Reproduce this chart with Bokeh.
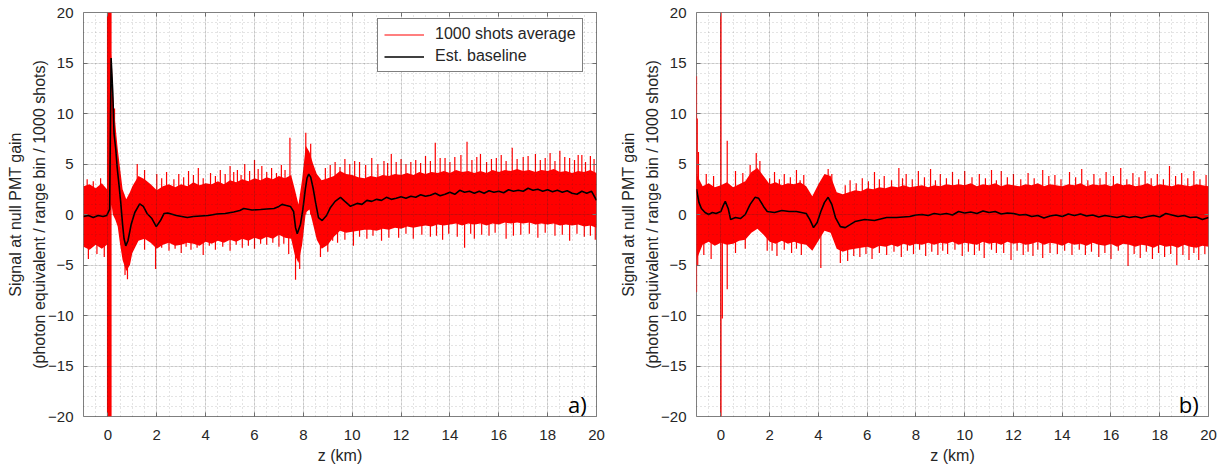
from bokeh.plotting import figure
from bokeh.layouts import row
from bokeh.models import Range1d, SingleIntervalTicker, LinearAxis, Legend, LegendItem, Label
from bokeh.embed import file_html
from bokeh.resources import INLINE

# ---------------- Panel a data ----------------
za_knot = [-1.0, -0.75, -0.5, -0.25, -0.04, 0.15, 0.2, 0.3, 0.4, 0.5, 0.6, 0.75, 0.9, 1.0,
           1.25, 1.5, 1.75, 2.0, 2.25, 2.5, 2.75, 3.0, 3.25, 3.5, 3.75, 4.0, 4.25, 4.5, 4.75,
           5.0, 5.25, 5.5, 5.75, 6.0, 6.25, 6.5, 6.75, 7.0, 7.25, 7.5,
           7.65, 7.8, 7.95, 8.1, 8.25, 8.4, 8.55,
           8.75, 9.0, 9.25, 9.5, 9.75, 10.0, 10.25, 10.5, 10.75, 11.0, 11.25, 11.5, 11.75,
           12.0, 12.25, 12.5, 12.75, 13.0, 13.25, 13.5, 13.75, 14.0, 14.25, 14.5, 14.75,
           15.0, 15.25, 15.5, 15.75, 16.0, 16.25, 16.5, 16.75, 17.0, 17.25, 17.5, 17.75,
           18.0, 18.25, 18.5, 18.75, 19.0, 19.25, 19.5, 19.75, 20.0]
a_hi = [2.8, 3.0, 2.6, 3.1, 2.5, 16.0, 12.0, 9.0, 6.5, 4.5, 2.5, 1.5, 2.2, 2.8,
        3.8, 3.5, 3.0, 2.4, 2.8, 3.0, 2.7, 3.0, 2.8, 3.2, 2.9, 3.1, 3.0, 3.3, 3.0,
        3.4, 3.2, 3.5, 3.3, 3.6, 3.4, 3.7, 3.5, 3.8, 3.6, 3.9,
        2.5, 1.0, 3.5, 6.8, 6.2, 5.0, 4.0,
        3.4, 3.6, 3.8, 4.3, 4.0, 3.9,
        3.7, 3.6, 3.8, 3.7, 3.9, 3.8, 4.0, 3.9, 4.1, 3.9, 4.2, 4.0, 4.2, 4.1, 4.3, 4.1,
        4.4, 4.2, 4.3, 4.1, 4.3, 4.1, 4.4, 4.2, 4.4, 4.3, 4.5, 4.3, 4.4, 4.2, 4.4, 4.3,
        4.5, 4.2, 4.3, 4.1, 4.3, 4.2, 4.4, 4.1]
a_lo = [-3.2, -3.5, -3.0, -3.4, -3.0, 1.0, 0.0, -0.5, -1.2, -3.0, -4.5, -5.6, -5.0, -3.8,
        -2.6, -2.4, -2.8, -3.4, -3.0, -2.8, -3.1, -3.0, -2.8, -2.9, -3.1, -2.7, -2.9, -2.6, -2.8,
        -2.5, -2.7, -2.4, -2.6, -2.3, -2.5, -2.2, -2.4, -2.0, -2.3, -2.4,
        -4.0, -4.8, -3.0, 0.2, 0.5, -1.0, -2.5,
        -3.4, -3.0, -2.2, -1.6, -1.8, -1.7,
        -1.6, -1.5, -1.5, -1.6, -1.4, -1.5, -1.3, -1.4, -1.2, -1.3, -1.2, -1.1, -1.2, -1.0, -1.1, -1.0,
        -0.9, -1.1, -0.9, -1.0, -0.9, -1.1, -0.9, -1.0, -0.8, -0.9, -0.8, -0.9, -0.8, -1.0, -0.9, -1.0,
        -0.9, -1.1, -1.0, -1.1, -1.0, -1.2, -1.1, -1.3]
a_sat = [-0.04, 0.15]

a_up_z = [-0.85, -0.6, -0.3, 0.27, 1.2, 1.5, 2.0, 2.4, 2.9, 3.3, 3.7, 4.2, 4.6, 5.0, 5.3, 5.6,
          6.0, 6.3, 6.7, 7.1, 7.45, 8.1, 8.3, 8.9, 9.3, 9.7, 10.3, 10.8, 11.3, 11.6, 12.0, 12.4,
          13.0, 13.4, 13.8, 14.2, 14.7, 15.25, 15.7, 16.1, 16.55, 17.0, 17.5, 18.1, 18.5, 18.9,
          19.4, 19.75]
a_up_v = [3.5, 3.3, 3.6, 10.5, 5.0, 4.4, 4.0, 4.2, 4.0, 4.3, 4.6, 4.1, 4.4, 4.8, 4.4, 5.0,
          5.4, 4.8, 4.6, 4.9, 7.6, 8.1, 7.0, 4.6, 5.2, 5.5, 5.2, 5.6, 5.3, 6.0, 5.5, 5.2,
          5.8, 7.1, 5.6, 5.7, 7.2, 6.0, 5.5, 5.9, 6.6, 5.7, 6.0, 6.1, 6.3, 5.6,
          5.9, 5.8]
a_up2_z = [2.2, 2.7, 3.1, 3.5, 3.9, 4.4, 4.8, 5.15, 5.45, 5.8, 6.15, 6.5, 6.9, 7.25, 9.1,
           9.5, 9.9, 10.1, 10.55, 11.05, 11.45, 11.8, 12.2, 12.6, 12.8, 13.2, 13.6, 14.0, 14.45,
           14.9, 15.1, 15.5, 15.9, 16.3, 16.75, 17.2, 17.7, 17.9, 18.3, 18.7, 19.1, 19.25,
           19.55, 19.9]
a_up2_v = [3.6, 3.5, 3.7, 3.9, 3.6, 3.8, 4.0, 4.2, 3.9, 4.3, 4.5, 4.2, 4.1, 4.4, 4.9,
           4.7, 5.0, 5.3, 4.9, 5.0, 5.1, 5.2, 5.0, 5.4, 5.1, 5.3, 5.6, 5.2, 5.9,
           5.4, 5.7, 5.2, 5.6, 5.3, 5.5, 5.8, 5.4, 5.6, 5.3, 5.7, 5.4, 5.9,
           5.2, 5.5]
a_dn_z = [-0.8, -0.45, -0.15, 0.7, 0.8, 1.5, 1.95, 2.5, 3.0, 3.4, 3.9, 4.4, 5.0, 5.5, 6.0,
          6.5, 7.0, 7.4, 7.68, 7.85, 8.7, 9.0, 9.4, 10.05, 10.6, 11.2, 11.9, 12.5, 13.2, 13.7,
          14.6, 15.0, 15.6, 16.3, 16.9, 17.6, 18.3, 18.9, 19.5, 19.95]
a_dn_v = [-4.4, -3.9, -4.2, -6.0, -6.4, -3.5, -5.4, -3.6, -3.8, -3.5, -4.0, -3.5, -3.6, -3.3, -3.4,
          -3.0, -3.2, -3.9, -6.45, -5.4, -4.2, -3.7, -2.8, -3.1, -2.4, -2.6, -2.3, -2.4, -2.2, -2.5,
          -3.3, -2.4, -2.1, -2.4, -2.0, -2.3, -2.1, -2.6, -2.2, -2.5]
a_dn2_z = [2.2, 2.75, 3.2, 3.65, 4.15, 4.7, 5.25, 5.75, 6.25, 6.75, 7.2, 9.2, 9.7, 10.3, 10.85,
           11.5, 12.2, 12.85, 13.45, 13.95, 14.3, 14.85, 15.3, 15.85, 16.6, 17.25, 17.9, 18.6,
           19.2, 19.75]
a_dn2_v = [-3.3, -3.4, -3.2, -3.3, -3.1, -3.2, -3.0, -3.1, -2.9, -2.8, -2.9, -2.6, -2.5, -2.2, -2.1,
           -2.3, -1.9, -2.0, -2.1, -1.9, -2.2, -1.9, -2.0, -1.8, -2.1, -1.9, -1.8, -2.0,
           -1.9, -2.1]

a_base_z = [-1.0, -0.8, -0.6, -0.4, -0.2, -0.05, 0.07, 0.13, 0.2, 0.25, 0.32, 0.38, 0.45, 0.52,
            0.6, 0.66, 0.73, 0.82, 0.95, 1.1, 1.3, 1.45, 1.6, 1.8, 1.98, 2.15, 2.3, 2.45, 2.8,
            3.25, 3.5, 3.8, 4.1, 4.47, 4.8, 5.15, 5.4, 5.56, 5.9, 6.25, 6.5, 6.8, 7.0, 7.13,
            7.3, 7.47, 7.6, 7.68, 7.75, 7.88, 7.98, 8.08, 8.15, 8.22, 8.3, 8.4, 8.5, 8.62, 8.77,
            8.95, 9.11, 9.3, 9.52, 9.7, 9.93,
            10.0, 10.2, 10.4, 10.6, 10.8, 11.0, 11.2, 11.4, 11.6, 11.8,
            12.0, 12.2, 12.4, 12.6, 12.8, 13.0, 13.2, 13.4, 13.6, 13.8,
            14.0, 14.2, 14.4, 14.6, 14.8, 15.0, 15.2, 15.4, 15.6, 15.8,
            16.0, 16.2, 16.4, 16.6, 16.8, 17.0, 17.2, 17.4, 17.6, 17.8,
            18.0, 18.2, 18.4, 18.6, 18.8, 19.0, 19.2, 19.4, 19.6, 19.8, 20.0]
a_base_v = [-0.2, -0.1, -0.3, -0.1, -0.2, -0.1, 0.5, 15.5, 12.0, 8.0, 6.5, 4.6, 3.0, 1.3,
            -1.0, -2.4, -3.1, -2.6, -1.0, 0.2, 1.05, 0.8, 0.1, -0.4, -1.2, -0.6, 0.1, 0.15, -0.1,
            -0.3, -0.2, -0.15, -0.1, 0.05, 0.1, 0.25, 0.4, 0.6, 0.45, 0.5, 0.55, 0.6, 0.8, 1.0,
            0.9, 0.8, 0.3, -1.3, -1.9, -1.0, 0.5, 2.5, 3.6, 4.0, 3.7, 2.6, 1.2, -0.3, -0.6,
            -0.1, 0.7, 1.3, 1.7, 1.3, 0.8,
            0.9, 1.1, 1.0, 1.4, 1.3, 1.5, 1.4, 1.7, 1.5, 1.6,
            1.75, 1.6, 1.8, 1.7, 1.95, 1.8, 1.9, 2.1, 1.85, 2.0,
            2.2, 2.0, 2.4, 2.2, 2.3, 2.1, 2.3, 2.1, 2.35, 2.2,
            2.3, 2.15, 2.45, 2.3, 2.4, 2.3, 2.6, 2.4, 2.5, 2.3,
            2.45, 2.25, 2.4, 2.2, 2.35, 2.1, 2.0, 2.3, 2.1, 2.3, 1.4]

# ---------------- Panel b data ----------------
zb_knot = [i / 4 for i in range(-4, 81)]
b_hi = [4.0, 2.8, 3.1, 2.7, 2.9, 3.2, 2.7, 3.0, 3.3, 4.2, 4.6, 3.8, 3.0, 3.2, 2.9, 3.1,
        3.0, 3.2, 2.8, 1.8, 3.0, 4.0, 3.8, 2.2, 2.0, 2.2, 2.4, 2.3, 2.6, 2.5, 2.7, 2.6,
        2.8, 2.7, 2.9, 2.7, 2.8,
        2.9, 2.7, 2.9, 2.8, 3.0, 2.9, 3.0, 2.9, 3.1, 2.8, 3.0, 2.9, 3.1, 2.8, 3.0, 2.9,
        2.8, 3.0, 2.9, 3.1, 2.8, 3.0, 2.9, 2.8, 3.0, 2.9, 3.1, 2.8, 3.0, 2.9, 3.0, 2.8,
        3.1, 2.9, 3.0, 2.8, 2.9, 3.1, 2.8, 3.0, 2.9, 2.8, 3.0, 2.9, 2.8, 3.0, 2.9, 2.8]
b_lo = [-4.5, -3.0, -2.7, -3.1, -2.8, -3.0, -2.9, -2.6, -2.5, -1.8, -1.4, -2.0, -2.7, -2.9,
        -2.6, -2.9, -2.7, -2.9, -3.0, -3.6, -2.6, -1.6, -1.8, -3.4, -3.7, -3.5, -3.4, -3.3,
        -3.2, -3.4, -3.1, -3.2, -3.0, -3.2, -2.9, -3.1, -2.9,
        -3.0, -2.8, -3.0, -2.8, -2.9, -2.7, -3.0, -2.8, -2.9, -3.0, -2.7, -2.9, -2.8, -3.0,
        -2.7, -2.9, -2.8, -3.0, -2.9, -2.7, -3.0, -2.8, -2.9, -3.1, -2.8, -3.0, -2.9, -3.1,
        -2.8, -3.0, -3.1, -2.9, -3.2, -2.9, -3.0, -3.2, -3.0, -3.1, -3.3, -3.0, -3.2, -3.1,
        -3.3, -3.0, -3.2, -3.3, -3.1, -3.2]
b_sat = [-0.03, 0.03]

b_up_z = [-1.0, -0.97, -0.92, -0.6, -0.3, 0.26, 0.6, 0.9, 1.2, 1.45, 1.6, 2.2, 2.6, 3.1, 3.4,
          4.4, 4.55, 5.3, 5.8, 6.3, 6.7, 7.3, 7.6, 8.1, 8.6, 9.0, 9.5, 10.0, 10.6, 11.1, 11.5,
          12.0, 12.6, 13.2, 13.7, 14.3, 14.8, 15.3, 15.8, 16.4, 16.9, 17.4, 17.9, 18.4, 18.9,
          19.4, 19.9]
b_up_v = [13.7, 9.5, 6.2, 4.0, 3.8, 7.3, 4.3, 4.1, 4.9, 6.1, 5.3, 4.2, 4.0, 4.4, 3.9,
          4.5, 4.0, 3.4, 3.6, 4.2, 3.8, 4.6, 4.0, 4.3, 4.5, 4.0, 4.2, 4.3, 4.0, 4.4, 4.3,
          4.0, 4.1, 4.4, 3.9, 4.2, 4.5, 4.0, 4.2, 4.6, 4.1, 4.3, 4.0, 4.8, 4.1,
          4.3, 3.9]
b_up2_z = [2.0, 2.4, 2.85, 3.25, 5.1, 5.55, 6.05, 6.5, 7.0, 7.45, 7.85, 8.35, 8.8, 9.25, 9.75,
           10.3, 10.85, 11.3, 11.75, 12.3, 12.85, 13.45, 13.95, 14.55, 15.05, 15.55, 16.1,
           16.65, 17.15, 17.65, 18.15, 18.65, 19.15, 19.65]
b_up2_v = [3.6, 3.5, 3.7, 3.4, 2.9, 3.1, 3.3, 3.5, 3.4, 3.6, 3.5, 3.7, 3.4, 3.6, 3.5,
           3.7, 3.6, 3.4, 3.7, 3.5, 3.6, 3.8, 3.5, 3.7, 3.4, 3.6, 3.8,
           3.5, 3.7, 3.6, 3.5, 3.8, 3.6, 3.5]
b_dn_z = [-1.0, -0.95, -0.7, -0.4, 0.06, 0.26, 0.6, 1.0, 1.9, 2.3, 2.9, 3.3, 4.1, 4.9, 5.2,
          5.7, 6.2, 6.8, 7.4, 7.9, 8.4, 8.9, 9.3, 9.9, 10.4, 10.8, 11.3, 11.9, 12.4, 12.8,
          13.2, 13.8, 14.4, 14.95, 15.5, 16.0, 16.7, 17.2, 17.7, 18.2, 18.7, 19.2, 19.6]
b_dn_v = [-7.7, -5.0, -4.0, -4.4, -10.3, -7.4, -3.8, -3.4, -3.6, -4.1, -3.8, -4.0, -5.3, -4.8, -4.6,
          -4.2, -4.4, -4.0, -4.2, -3.9, -4.1, -4.0, -3.9, -4.1, -4.0, -4.3, -3.8, -4.5, -4.0, -4.1,
          -4.3, -3.9, -4.0, -4.0, -4.2, -4.4, -5.1, -4.3, -4.4, -4.2, -5.0, -4.5, -4.5]
b_dn2_z = [2.1, 2.6, 3.1, 5.45, 5.95, 6.5, 7.1, 7.65, 8.15, 8.65, 9.1, 9.6, 10.15, 10.6, 11.1,
           11.6, 12.15, 12.6, 13.0, 13.5, 14.1, 14.7, 15.2, 15.75, 16.3, 16.95, 17.45, 17.95,
           18.45, 18.95, 19.4, 19.85]
b_dn2_v = [-3.6, -3.5, -3.4, -4.1, -3.9, -3.8, -3.7, -3.6, -3.5, -3.7, -3.6, -3.5, -3.7, -3.6, -3.5,
           -3.8, -3.6, -3.7, -3.5, -3.8, -3.6, -3.5, -3.7, -3.8, -3.6, -3.9, -3.7, -3.8,
           -3.9, -4.0, -3.8, -3.9]

b_base_z = [-1.0, -0.9, -0.8, -0.65, -0.5, -0.35, -0.2, 0.0, 0.1, 0.18, 0.3, 0.4, 0.6, 0.8,
            1.0, 1.2, 1.4, 1.55, 1.75, 1.9, 2.2, 2.5, 2.8, 3.1, 3.5, 3.65, 3.8, 3.95, 4.1,
            4.25, 4.4, 4.55, 4.7, 4.9, 5.1, 5.3, 5.5, 5.9, 6.3, 6.8, 7.2,
            7.75, 8.0, 8.25, 8.5, 8.75, 9.0, 9.25, 9.5, 9.75, 10.0,
            10.25, 10.5, 10.75, 11.0, 11.25, 11.5, 11.75, 12.0, 12.25, 12.5,
            12.75, 13.0, 13.25, 13.5, 13.75, 14.0, 14.25, 14.5, 14.75, 15.0,
            15.25, 15.5, 15.75, 16.0, 16.25, 16.5, 16.75, 17.0, 17.25, 17.5,
            17.75, 18.0, 18.25, 18.5, 18.75, 19.0, 19.25, 19.5, 19.75, 20.0]
b_base_v = [2.5, 1.2, 0.6, 0.2, 0.0, 0.2, 0.1, 0.3, 0.9, 1.3, 0.6, -0.5, -0.3, -0.4,
            0.0, 1.0, 1.7, 1.6, 0.8, 0.3, 0.2, 0.4, 0.3, 0.3, 0.1, -0.5, -1.3, -0.8, 0.3,
            1.2, 1.7, 1.0, -0.3, -1.2, -1.3, -1.0, -0.7, -0.5, -0.6, -0.3, -0.3,
            -0.2, -0.05, 0.0, -0.1, 0.1, 0.0, 0.1, -0.05, 0.3, 0.15,
            0.25, 0.1, 0.35, 0.2, 0.3, 0.05, 0.15, 0.1, -0.05, 0.0,
            -0.2, -0.1, -0.35, -0.15, -0.05, -0.2, 0.05, -0.1, 0.05, -0.15,
            -0.05, -0.25, -0.1, -0.2, -0.3, -0.15, -0.3, -0.2, -0.35, -0.2,
            -0.1, -0.25, 0.1, -0.05, -0.2, -0.1, -0.3, -0.25, -0.5, -0.3]

x_tick_interval = 2
y_tick_interval = 5
legend_labels = ["1000 shots average", "Est. baseline"]
y_label = "Signal at null PMT gain\n(photon equivalent / range bin / 1000 shots)"
x_label = "z (km)"
RED = "#ff0000"
FONT = "Liberation Sans"
AXC = "#7f7f7f"
TXT = "#262626"


def spikes(p, zs, vs):
    return p.segment(x0=zs, y0=[0] * len(zs), x1=zs, y1=vs, line_color=RED, line_width=1.2)


def make_panel(zk, hi, lo, sat, spike_sets, bz, bv, tag, fw, bl, br, legend):
    p = figure(frame_width=fw, frame_height=404,
               x_range=Range1d(-1, 20), y_range=Range1d(-20, 20),
               output_backend="svg", toolbar_location=None,
               min_border_left=bl, min_border_right=br,
               min_border_top=12, min_border_bottom=52)
    p.background_fill_color = "white"
    p.border_fill_color = "white"
    p.outline_line_color = AXC
    p.outline_line_width = 1

    p.xaxis.ticker = SingleIntervalTicker(interval=x_tick_interval, num_minor_ticks=4)
    p.yaxis.ticker = SingleIntervalTicker(interval=y_tick_interval, num_minor_ticks=5)
    for ax in (p.xaxis[0], p.yaxis[0]):
        ax.axis_line_color = None
        ax.major_tick_in = 4
        ax.major_tick_out = 0
        ax.major_tick_line_color = AXC
        ax.minor_tick_line_color = None
        ax.major_label_text_font = FONT
        ax.major_label_text_font_size = "15px"
        ax.major_label_text_color = TXT
        ax.axis_label_text_font = FONT
        ax.axis_label_text_font_size = "16px"
        ax.axis_label_text_font_style = "normal"
        ax.axis_label_text_color = TXT
    p.xaxis.major_label_standoff = 9
    p.yaxis.major_label_standoff = 6
    p.xaxis.axis_label = x_label
    p.xaxis.axis_label_standoff = 4
    p.yaxis.axis_label = y_label
    p.yaxis.axis_label_standoff = -3
    p.yaxis.axis_label_text_line_height = 1.4

    top = LinearAxis(ticker=SingleIntervalTicker(interval=x_tick_interval, num_minor_ticks=4))
    right = LinearAxis(ticker=SingleIntervalTicker(interval=y_tick_interval, num_minor_ticks=5))
    for ax in (top, right):
        ax.axis_line_color = None
        ax.major_tick_in = 4
        ax.major_tick_out = 0
        ax.major_tick_line_color = AXC
        ax.minor_tick_line_color = None
        ax.major_label_text_font_size = "1px"
        ax.major_label_text_color = None
        ax.major_label_standoff = 0
    p.add_layout(top, "above")
    p.add_layout(right, "right")

    for g in (p.xgrid[0], p.ygrid[0]):
        g.level = "guide"
        g.grid_line_color = "#262626"
        g.grid_line_alpha = 0.15
        g.grid_line_width = 1
        g.minor_grid_line_color = "#262626"
        g.minor_grid_line_alpha = 0.25
        g.minor_grid_line_dash = "1 3"
        g.minor_grid_line_width = 1

    # red measured signal: dense core band, saturated bin, and individual spikes
    p.varea(x=zk, y1=lo, y2=hi, fill_color=RED, fill_alpha=1.0)
    p.quad(left=[sat[0]], right=[sat[1]], bottom=[-20], top=[20],
           fill_color=RED, line_color=None)
    red_renderers = [spikes(p, zs, vs) for zs, vs in spike_sets]
    base = p.line(x=bz, y=bv, line_color="black", line_width=1.6)

    if legend:
        lg = Legend(items=[LegendItem(label=legend_labels[0], renderers=[red_renderers[0]]),
                           LegendItem(label=legend_labels[1], renderers=[base])],
                    location=(294, 344))
        lg.border_line_color = "black"
        lg.border_line_width = 1.2
        lg.background_fill_color = "white"
        lg.background_fill_alpha = 1
        lg.glyph_width = 40
        lg.glyph_height = 17
        lg.label_height = 17
        lg.label_standoff = 11
        lg.spacing = 4
        lg.padding = 6
        lg.margin = 0
        lg.label_text_font = FONT
        lg.label_text_font_size = "16px"
        lg.label_text_color = TXT
        p.add_layout(lg)

    p.add_layout(Label(x=19.6, y=-18.8, text=tag, text_align="right",
                       text_baseline="alphabetic", text_font="Open Sans",
                       text_font_size="22px", text_color="black"))
    return p


pa = make_panel(za_knot, a_hi, a_lo, a_sat,
                [(a_up_z, a_up_v), (a_up2_z, a_up2_v), (a_dn_z, a_dn_v), (a_dn2_z, a_dn2_v)],
                a_base_z, a_base_v, "a)", 513, 83, 20, True)
pb = make_panel(zb_knot, b_hi, b_lo, b_sat,
                [(b_up_z, b_up_v), (b_up2_z, b_up2_v), (b_dn_z, b_dn_v), (b_dn2_z, b_dn2_v)],
                b_base_z, b_base_v, "b)", 512, 80, 10, False)

layout = row(pa, pb)
open("out.html", "w").write(file_html(layout, INLINE))
